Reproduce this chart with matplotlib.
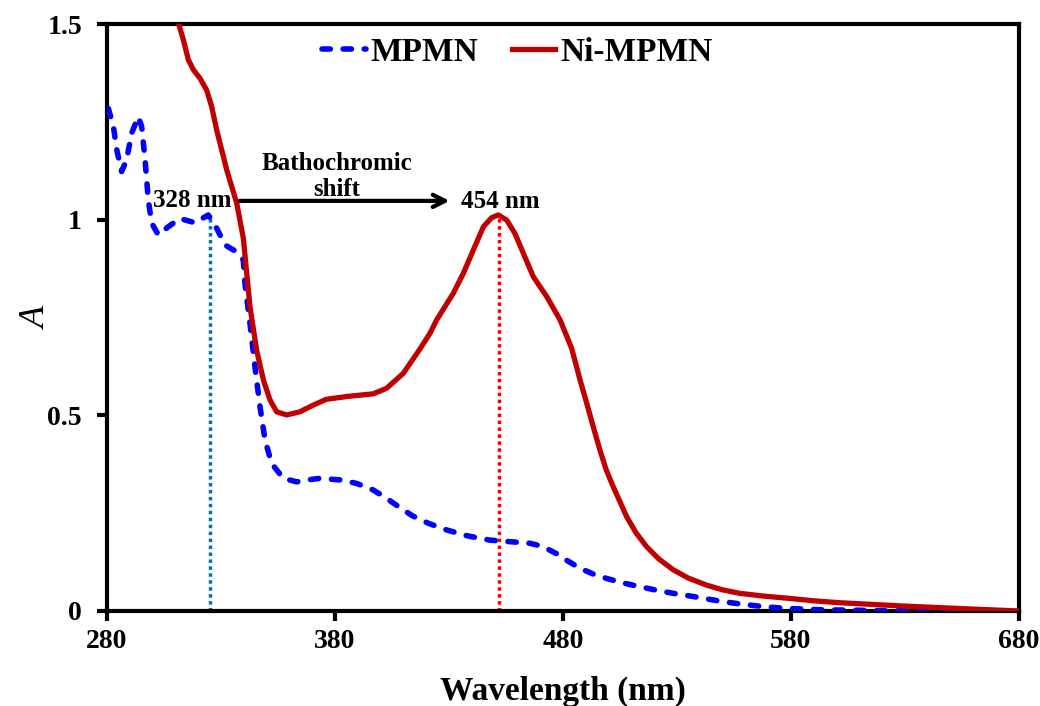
import matplotlib.pyplot as plt
import numpy as np
from matplotlib.ticker import FormatStrFormatter

plt.rcParams['font.family'] = ['Liberation Serif', 'DejaVu Serif']
plt.rcParams['font.weight'] = 'bold'

# MPMN spectrum (wavelength nm, absorbance)
mpmn_wl = [280.6, 282.8, 284.3, 286.4, 288.6, 290.8, 293.7, 295.2, 296.7, 298.1,
           299.6, 302.5, 306.9, 312, 318.6, 324.4, 328.1, 331.8, 336.8, 339.8,
           340.5, 342.7, 344.9, 347.1, 349.3, 352.2, 357.3, 363.2, 368, 373.4,
           382.2, 389.5, 396.8, 402.6, 407, 414, 421, 429, 438, 448, 457, 465.5,
           471, 477, 482, 487.5, 493, 499.2, 506, 513.8, 521, 528.4, 536, 543,
           550, 557.6, 565, 572.3, 580, 594, 620, 650, 680]
mpmn_abs = [1.284, 1.238, 1.178, 1.123, 1.153, 1.221, 1.263, 1.238, 1.153, 1.05,
            0.991, 0.961, 0.982, 1.003, 0.992, 1.012, 0.978, 0.935, 0.918, 0.897,
            0.837, 0.735, 0.624, 0.522, 0.437, 0.377, 0.339, 0.330, 0.335, 0.339,
            0.335, 0.326, 0.309, 0.288, 0.270, 0.243, 0.224, 0.207, 0.192, 0.181,
            0.177, 0.173, 0.165, 0.147, 0.128, 0.109, 0.095, 0.083, 0.072, 0.062,
            0.053, 0.045, 0.038, 0.031, 0.024, 0.018, 0.013, 0.009, 0.006, 0.003,
            0.001, 0.0, 0.0]

# Ni-MPMN spectrum
ni_wl = [311.6, 313.5, 315.7, 317.9, 320.8, 323.7, 325.9, 328.1, 332.5, 336.9,
         339.8, 342.7, 345.6, 348.6, 351.5, 354.4, 358.8, 364.6, 370.4, 376.2,
         385.1, 396.8, 402.6, 409.9, 417.3, 421.7, 424.6, 431.9, 436.3, 440.7,
         445.1, 448.7, 451.6, 455.3, 458.9, 462.6, 467, 472.9, 478.7, 483.8,
         487.5, 490.4, 493.3, 496.2, 499, 502, 507.9, 512, 516.7, 522, 528.4,
         535, 543, 550, 557.6, 568, 579.6, 590, 601.5, 628, 655, 680]
ni_abs = [1.497, 1.459, 1.408, 1.383, 1.361, 1.331, 1.289, 1.229, 1.127, 1.042,
          0.952, 0.778, 0.667, 0.59, 0.539, 0.509, 0.501, 0.509, 0.526, 0.541,
          0.548, 0.555, 0.569, 0.607, 0.67, 0.71, 0.744, 0.812, 0.863, 0.923,
          0.982, 1.005, 1.012, 0.999, 0.965, 0.914, 0.854, 0.803, 0.744, 0.671,
          0.59, 0.531, 0.47, 0.411, 0.36, 0.318, 0.241, 0.20, 0.164, 0.133, 0.105,
          0.084, 0.066, 0.054, 0.045, 0.038, 0.032, 0.026, 0.021, 0.013, 0.006, 0.0]

peak_mpmn = 325      # marker line position (labelled 328 nm)
peak_ni = 452        # marker line position (labelled 454 nm)
peak_mpmn_abs = 1.012
peak_ni_abs = 1.012

fig = plt.figure(figsize=(10.4, 7.06), dpi=100)
ax = fig.add_axes([0.1029, 0.1346, 0.8769, 0.8314])

ax.plot(mpmn_wl, mpmn_abs, color='#0000FF', lw=4, linestyle=(0, (1.5, 2.3)),
        dash_capstyle='round', label='MPMN', zorder=3)
ax.plot(ni_wl, ni_abs, color='#C00000', lw=3.8, label='Ni-MPMN', zorder=3,
        solid_joinstyle='round')

ax.plot([peak_mpmn, peak_mpmn], [0, peak_mpmn_abs], color='#0070C0', lw=2.5,
        linestyle=(0, (1, 1)), zorder=2)
ax.plot([peak_ni, peak_ni], [0, peak_ni_abs], color='#FF0000', lw=2.5,
        linestyle=(0, (1, 1)), zorder=2)

ax.annotate('', xy=(431.5, 1.048), xytext=(337, 1.048),
            arrowprops=dict(arrowstyle='->', lw=3, color='black', mutation_scale=22))
ax.text(300.2, 1.05, '328 nm', fontsize=18, fontweight='bold', ha='left', va='center')
ax.text(435.3, 1.046, '454 nm', fontsize=18, fontweight='bold', ha='left', va='center')
ax.text(380.7, 1.11, 'Bathochromic\nshift', fontsize=18, fontweight='bold',
        ha='center', va='center', linespacing=1.15)

ax.set_xlim(280, 680)
ax.set_ylim(0, 1.5)
ax.set_xticks([280, 380, 480, 580, 680])
ax.set_yticks([0, 0.5, 1, 1.5])
ax.yaxis.set_major_formatter(FormatStrFormatter('%g'))

for s in ax.spines.values():
    s.set_linewidth(3)
ax.tick_params(axis='both', direction='out', length=7, width=3, labelsize=20)
ax.tick_params(axis='x', pad=6)
ax.tick_params(axis='y', pad=11)

ax.set_xlabel('Wavelength (nm)', fontsize=24, fontweight='bold', labelpad=16)
ax.set_ylabel('A', fontsize=26, fontstyle='italic', fontweight='normal')
ax.yaxis.set_label_coords(-0.058, 0.5)

ax.legend(loc='center left', bbox_to_anchor=(0.236, 0.952), ncol=2, frameon=False,
          fontsize=24, handlelength=1.3, handletextpad=0.15, columnspacing=1.0,
          borderpad=0, borderaxespad=0)

fig.savefig('out.png', dpi=100)
